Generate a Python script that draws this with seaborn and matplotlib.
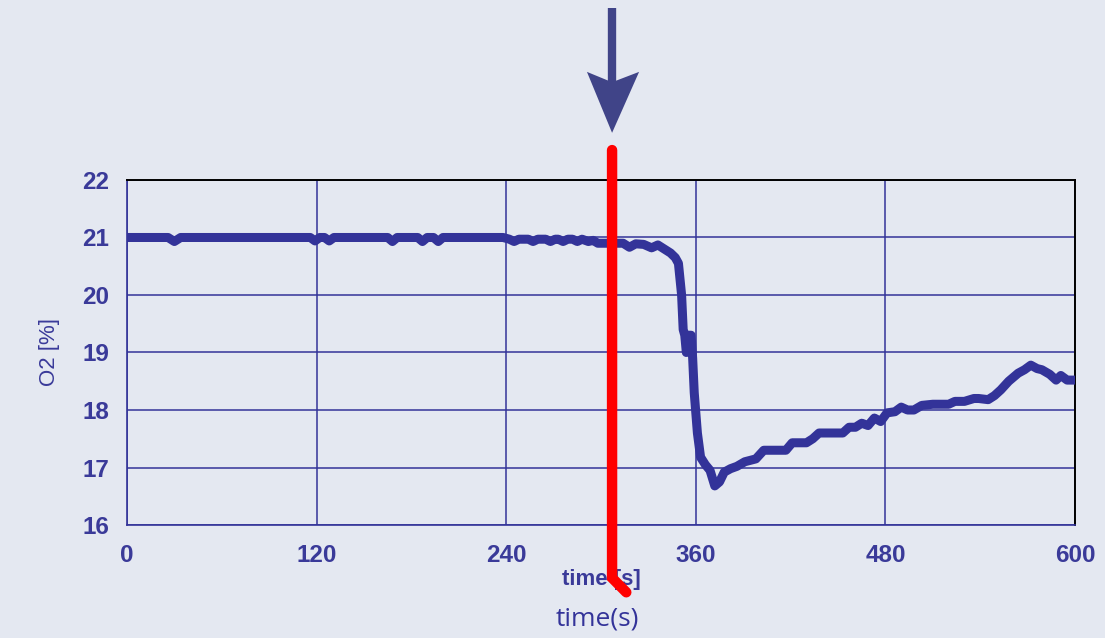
import numpy as np
import pandas as pd
import matplotlib.pyplot as plt
import seaborn as sns

# O2 reading over time
time_s = [0, 26, 30, 34, 116, 119, 122, 125, 128, 131, 165, 168, 171, 184, 187, 190, 194, 197, 200,
          238, 242, 245, 248, 254, 257, 260, 265, 268, 271, 273, 276, 279, 282, 285, 288, 292,
          295, 298, 305, 314, 318, 322, 327, 332, 336, 340, 344, 347, 349, 351, 352, 353, 354,
          355, 357, 358, 359, 361, 363, 366, 369, 372, 375, 378, 382, 386, 391, 398, 403, 410,
          417, 421, 430, 434, 438, 446, 453, 457, 461, 465, 469, 473, 477, 481, 486, 490, 494,
          498, 503, 510, 520, 524, 530, 536, 539, 545, 549, 553, 558, 564, 568, 572, 576, 579,
          584, 588, 591, 595, 600]
o2_pct = [21.0, 21.0, 20.93, 21.0, 21.0, 20.94, 21.0, 21.0, 20.94, 21.0, 21.0, 20.93, 21.0, 21.0, 20.93, 21.0, 21.0, 20.93, 21.0,
          21.0, 20.97, 20.93, 20.97, 20.97, 20.93, 20.97, 20.97, 20.93, 20.97, 20.97, 20.93, 20.97, 20.97, 20.93, 20.97, 20.93,
          20.95, 20.9, 20.9, 20.9, 20.83, 20.89, 20.88, 20.82, 20.87, 20.8, 20.73, 20.65, 20.55, 20.0, 19.4, 19.3, 19.0,
          19.3, 19.3, 18.9, 18.3, 17.6, 17.18, 17.05, 16.95, 16.68, 16.75, 16.92, 16.98, 17.02, 17.1, 17.15, 17.3, 17.3,
          17.3, 17.43, 17.43, 17.5, 17.6, 17.6, 17.6, 17.7, 17.7, 17.77, 17.73, 17.86, 17.8, 17.95, 17.97, 18.05, 18.0,
          18.0, 18.08, 18.1, 18.1, 18.15, 18.15, 18.2, 18.2, 18.18, 18.25, 18.35, 18.5, 18.64, 18.7, 18.78, 18.72, 18.7,
          18.62, 18.52, 18.6, 18.52, 18.52]

x_ticks = [0, 120, 240, 360, 480, 600]
y_ticks = [16, 17, 18, 19, 20, 21, 22]
marker_t = 307  # where the red marker and arrow sit

df = pd.DataFrame({'time': time_s, 'o2': o2_pct})

bg = '#e4e8f1'
navy = '#333399'
arrow_col = '#404488'

sns.set_style('white')
plt.rcParams['font.family'] = ['Liberation Sans', 'DejaVu Sans']

fig = plt.figure(figsize=(11.05, 6.38), dpi=100, facecolor=bg)
ax = fig.add_axes([0.1149, 0.1771, 0.8580, 0.5408])
ax.set_facecolor(bg)

sns.lineplot(data=df, x='time', y='o2', ax=ax, color=navy, lw=6.5, solid_joinstyle='round',
             solid_capstyle='round', zorder=3)

ax.set_xlim(0, 600)
ax.set_ylim(16, 22)
ax.set_xticks(x_ticks)
ax.set_xticks([60, 180, 300, 420, 540], minor=True)
ax.set_yticks(y_ticks)
ax.grid(True, which='major', color=navy, lw=1.1)
ax.tick_params(axis='both', which='major', direction='out', length=6, width=1.1, color=navy,
               labelcolor='#3a3a99', labelsize=17.5)
ax.tick_params(axis='x', which='major', pad=8)
ax.tick_params(axis='y', which='major', pad=7)
ax.tick_params(axis='x', which='minor', direction='out', length=5, width=1.1, color=navy)
for lbl in ax.get_xticklabels() + ax.get_yticklabels():
    lbl.set_fontweight('bold')

for side in ['left', 'bottom']:
    ax.spines[side].set_color(navy)
    ax.spines[side].set_linewidth(1.2)
for side in ['top', 'right']:
    ax.spines[side].set_color('black')
    ax.spines[side].set_linewidth(1.4)

ax.set_xlabel('')
ax.set_ylabel('O2 [%]', color='#3a3a99', fontsize=16, labelpad=16)

# small axis label from the original figure
ax.text(300, 15.05, 'time [s]', ha='center', va='center', color='#3a3a99', fontsize=16,
        fontweight='bold')

# red marker line, bent at the bottom
ax.plot([marker_t, marker_t, 316], [22.52, 15.08, 14.83], color='red', lw=7.5, clip_on=False,
        zorder=5, solid_joinstyle='miter')

# arrow pointing down at the marker: shaft plus notched head
ax.plot([marker_t, marker_t], [24.99, 23.62], color=arrow_col, lw=6, clip_on=False,
        solid_capstyle='butt')
ax.fill([marker_t, 291.1, marker_t, 324.1], [22.82, 23.88, 23.70, 23.88], color=arrow_col,
        clip_on=False, lw=0)

fig.text(0.541, 0.01, 'time(s)', ha='center', va='bottom', color='#333399', fontsize=19,
         family=['Open Sans', 'DejaVu Sans'])

fig.savefig('out.png', dpi=100, facecolor=bg)
